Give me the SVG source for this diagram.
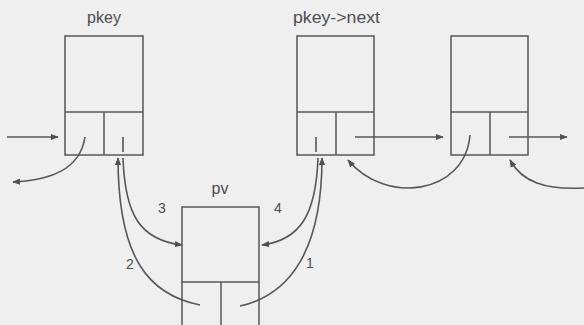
<svg xmlns="http://www.w3.org/2000/svg" width="584" height="325" viewBox="0 0 584 325">
<defs>
<marker id="ah" viewBox="0 0 10 10" refX="9" refY="5" markerWidth="8" markerHeight="8" orient="auto" markerUnits="userSpaceOnUse">
<path d="M0,1 L10,5 L0,9 z" fill="#505050"/>
</marker>
<style>
.box{fill:none;stroke:#575757;stroke-width:1.5}
.ln{fill:none;stroke:#575757;stroke-width:1.5}
.con{fill:none;stroke:#575757;stroke-width:1.6}
.lbl{font-family:"Liberation Sans",Arial,sans-serif;font-size:16px;fill:#4d4d4d}
.num{font-family:"Liberation Sans",Arial,sans-serif;font-size:14px;fill:#4d4d4d;text-anchor:middle}
</style>
</defs>
<rect width="584" height="325" fill="#efefef"/>
<g id="node-pkey">
<rect class="box" x="65" y="36" width="78" height="119"/>
<line class="ln" x1="65" y1="112" x2="143" y2="112"/>
<line class="ln" x1="104" y1="112" x2="104" y2="155"/>
<text class="lbl" x="104" y="23" text-anchor="middle">pkey</text>
</g>
<g id="node-pkeynext">
<rect class="box" x="297" y="36" width="77" height="119"/>
<line class="ln" x1="297" y1="112" x2="374" y2="112"/>
<line class="ln" x1="336" y1="112" x2="336" y2="155"/>
<text class="lbl" x="293" y="23" textLength="87" lengthAdjust="spacingAndGlyphs">pkey-&gt;next</text>
</g>
<g id="node-3">
<rect class="box" x="451" y="36" width="77" height="119"/>
<line class="ln" x1="451" y1="112" x2="528" y2="112"/>
<line class="ln" x1="490" y1="112" x2="490" y2="155"/>
</g>
<g id="node-pv">
<rect class="box" x="182" y="207" width="77" height="130"/>
<line class="ln" x1="182" y1="282" x2="259" y2="282"/>
<line class="ln" x1="221" y1="282" x2="221" y2="337"/>
<text class="lbl" x="220" y="194" text-anchor="middle">pv</text>
</g>
<g id="connectors">
<line class="con" x1="7" y1="137" x2="58" y2="137" marker-end="url(#ah)"/>
<path class="con" d="M85,137 C80,170 50,180 13,182" marker-end="url(#ah)"/>
<line class="con" x1="123" y1="137" x2="123" y2="152"/>
<path class="con" d="M123,158 C125,215 140,240 182,245" marker-end="url(#ah)"/>
<path class="con" d="M200,305 C150,295 118,260 118,158" marker-end="url(#ah)"/>
<line class="con" x1="316" y1="137" x2="316" y2="152"/>
<path class="con" d="M318,158 C316,215 300,240 262,245" marker-end="url(#ah)"/>
<path class="con" d="M240,306 C290,295 322,250 322,158" marker-end="url(#ah)"/>
<line class="con" x1="355" y1="137" x2="443" y2="137" marker-end="url(#ah)"/>
<line class="con" x1="509" y1="137" x2="567" y2="137" marker-end="url(#ah)"/>
<path class="con" d="M470,135 C465,195 385,205 348,160" marker-end="url(#ah)"/>
<path class="con" d="M584,188 C545,190 522,182 510,160" marker-end="url(#ah)"/>
<text class="num" x="162" y="213">3</text>
<text class="num" x="130" y="269">2</text>
<text class="num" x="278" y="213">4</text>
<text class="num" x="310" y="268">1</text>
</g>
</svg>
